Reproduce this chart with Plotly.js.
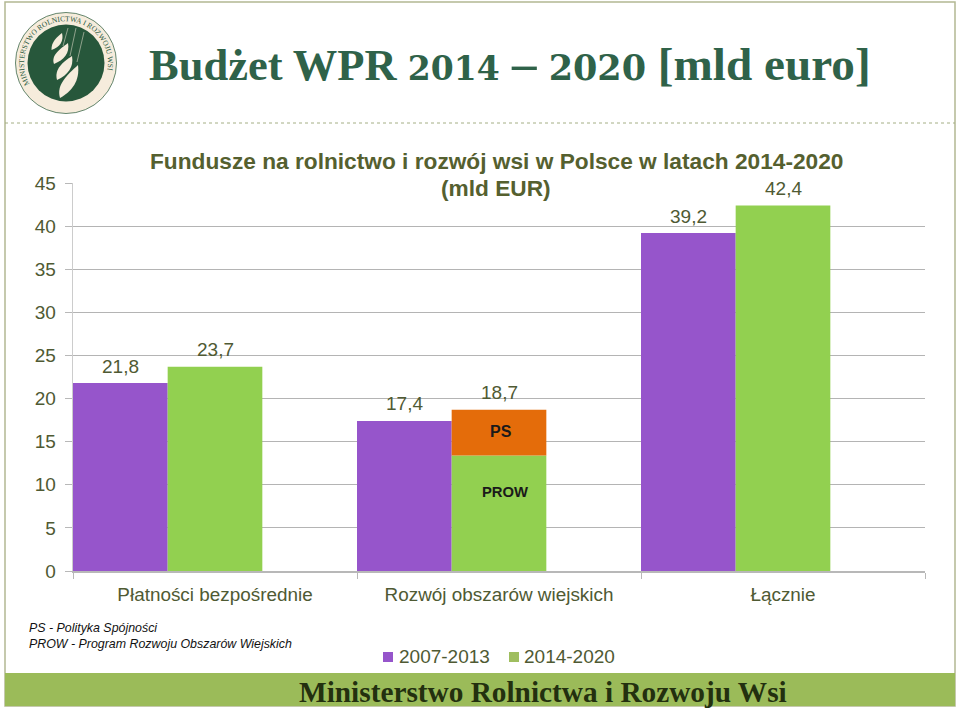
<!DOCTYPE html>
<html><head><meta charset="utf-8">
<script src="https://cdn.plot.ly/plotly-3.0.1.min.js"></script>
<style>html,body{margin:0;padding:0;background:#fff}#wrap{position:relative;width:960px;height:709px}#chart{position:absolute;left:0;top:0;width:960px;height:709px}#logo{position:absolute;left:0;top:0;pointer-events:none}</style>
</head><body>
<div id="wrap"><div id="chart"></div>
<svg id="logo" width="130" height="120" viewBox="0 0 130 120">
<defs><path id="ring" d="M 29.5 84 A 42 42 0 1 1 102.5 84"/></defs>
<circle cx="66" cy="63" r="50.5" fill="#f6ecdc" stroke="#3d6a4c" stroke-width="0.8"/>
<circle cx="66" cy="63" r="38.5" fill="#27573b"/>
<text font-family="Liberation Serif" font-size="7.5" fill="#2c5a3e"><textPath href="#ring">MINISTERSTWO ROLNICTWA I ROZWOJU  WSI</textPath></text>
<g fill="#f6ecdc">
<path d="M51.5 50 C51 42 57 37 62 33 C64 41 60 47 51.5 50Z"/>
<path d="M54 64 C51 55 60 49 68 43 C70 53 64 60 54 64Z"/>
<path d="M57 80 C54 69 63 62 72 56 C74 67 68 75 57 80Z"/>
<path d="M60 98 C56 85 67 75 78 65 C80 81 72 91 60 98Z"/>
</g>
<g stroke="#f6ecdc" stroke-width="0.5" fill="none"><path d="M68 28 L63 46M76 28 L70 56M84 32 L77 62"/></g>
</svg></div>
<script>
var categories = ['Płatności bezpośrednie', 'Rozwój obszarów wiejskich', 'Łącznie'];
var series2007 = [21.8, 17.4, 39.2];
var series2014 = [23.7, 13.4, 42.4];
var seriesPS = [null, 5.3, null];
var totals2014 = [23.7, 18.7, 42.4];
var labels2007 = ['21,8', '17,4', '39,2'];
var labels2014 = ['23,7', '18,7', '42,4'];
var yTicks = [0, 5, 10, 15, 20, 25, 30, 35, 40, 45];
var legendNames = ['2007-2013', '2014-2020'];

var W = 960, H = 709, L = 73, R = 925, T = 183, B = 571;
function px(x){return (x - L) / (R - L);}
function py(y){return (B - y) / (B - T);}
var txt = '#4f5a33';
var common = {type:'bar', x:categories, width:1/3, cliponaxis:false, showlegend:false, hoverinfo:'y'};
var traces = [
  Object.assign({}, common, {name:legendNames[0], y:series2007, offset:-0.5, marker:{color:'#9655cb'}}),
  Object.assign({}, common, {name:legendNames[1], y:series2014, offset:-1/6, marker:{color:'#92d050'}}),
  Object.assign({}, common, {name:'PS', y:seriesPS, base:series2014, offset:-1/6, marker:{color:'#e46c0a'}})
];
function ann(text, x, y, size, color, opts, fontOpts){
  return Object.assign({text:text, xref:'paper', yref:'paper', x:px(x), y:py(y), showarrow:false, xanchor:'center', yanchor:'middle', font:Object.assign({family:'Liberation Sans', size:size, color:color}, fontOpts||{})}, opts||{});
}
function valueLabel(text, x, y){
  return {text:text, xref:'x', yref:'y', x:x, y:y, yshift:17, showarrow:false, xanchor:'center', yanchor:'middle', font:{family:'Liberation Sans', size:19, color:txt}};
}
var annotations = [
  ann('Fundusze na rolnictwo i rozwój wsi w Polsce w latach 2014-2020', 496, 161, 22.7, '#55602f', null, {weight:700}),
  ann('(mld EUR)', 496, 188, 22.7, '#55602f', {bgcolor:'#ffffff', borderpad:0}, {weight:700}),
  ann('PS', 501, 431, 16, '#1a1a1a', null, {weight:700}),
  ann('PROW', 505, 492, 14.8, '#1a1a1a', null, {weight:700}),
  ann('PS - Polityka Spójności<br>PROW - Program Rozwoju Obszarów Wiejskich', 28, 636, 12.4, '#111111', {xanchor:'left', align:'left', borderpad:0}, {style:'italic'}),
  ann('Ministerstwo Rolnictwa i Rozwoju Wsi', 543, 692, 29.3, '#23300f', null, {family:'Liberation Serif', weight:700}),
  ann(legendNames[0], 398, 656, 19, txt, {xanchor:'left', borderpad:0}),
  ann(legendNames[1], 523, 656, 19, txt, {xanchor:'left', borderpad:0})
];
categories.forEach(function(c, i){
  annotations.push(valueLabel(labels2007[i], i - 1/3, series2007[i]));
  annotations.push(valueLabel(labels2014[i], i, totals2014[i]));
});
var sized = function(s, size, fam){return '<span style="' + (fam ? 'font-family:\'DejaVu Serif\';' : '') + 'font-size:' + size + 'px">' + s + '</span>';};
var titleText = 'Budżet WPR ' + sized('2014', 33, true) + sized(' – ', 49) + sized('2020', 35, true) + sized(' [mld euro]', 47.2);
var layout = {
  width:W, height:H, autosize:false,
  margin:{l:L, r:W-R, t:T, b:H-B, pad:0},
  paper_bgcolor:'rgba(0,0,0,0)', plot_bgcolor:'rgba(0,0,0,0)',
  barmode:'overlay', showlegend:false,
  title:{text:titleText, font:{family:'Liberation Serif', size:44.5, weight:700, color:'#2f6249'}, x:149/W, xanchor:'left', xref:'container', y:1-64/H, yanchor:'middle', yref:'container'},
  xaxis:{type:'category', categoryorder:'array', categoryarray:categories, range:[-0.5,2.5], tickson:'boundaries', ticks:'outside', ticklen:6, tickcolor:'#b8b8b8', showline:true, linecolor:'#b8b8b8', linewidth:1.5, showgrid:false, ticklabelstandoff:6, tickfont:{family:'Liberation Sans', size:18.9, color:txt}, automargin:false},
  yaxis:{range:[0,45], tickvals:yTicks, ticktext:yTicks.map(function(v){return v + '\u00a0';}), ticks:'outside', ticklen:7, tickcolor:'#b8b8b8', showline:true, linecolor:'#cccccc', linewidth:1, gridcolor:'#b4b4b4', gridwidth:1, zeroline:false, tickfont:{family:'Liberation Sans', size:19, color:txt}, automargin:false, layer:'below traces'},
  shapes:[
    {type:'rect', xref:'paper', yref:'paper', x0:px(5), x1:px(955), y0:py(706), y1:py(2), line:{color:'#b3b892', width:1.5}, layer:'below'},
    {type:'line', xref:'paper', yref:'paper', x0:px(5), x1:px(955), y0:py(123), y1:py(123), line:{color:'#a4ae84', width:1, dash:'dot'}, layer:'below'},
    {type:'rect', xref:'paper', yref:'paper', x0:px(5), x1:px(955), y0:py(706), y1:py(673), line:{width:0}, fillcolor:'#9bbb59', layer:'below'},
    {type:'rect', xref:'paper', yref:'paper', x0:px(383), x1:px(393), y0:py(662), y1:py(652), line:{width:0}, fillcolor:'#9655cb', layer:'above'},
    {type:'rect', xref:'paper', yref:'paper', x0:px(509), x1:px(519), y0:py(662), y1:py(652), line:{width:0}, fillcolor:'#9fbe5f', layer:'above'}
  ],
  annotations:annotations
};
Plotly.newPlot('chart', traces, layout, {displayModeBar:false, responsive:false});
</script>
</body></html>
